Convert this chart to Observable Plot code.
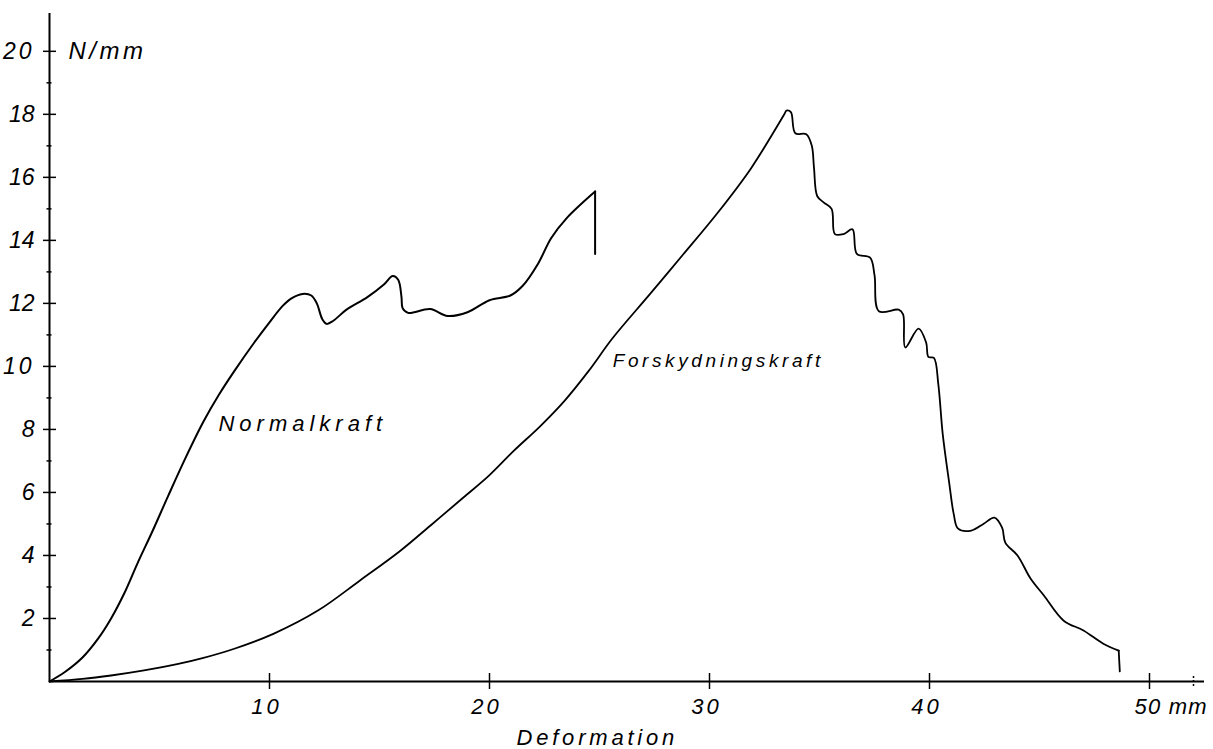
<!DOCTYPE html>
<html>
<head>
<meta charset="utf-8">
<script src="https://cdn.jsdelivr.net/npm/d3@7"></script>
<script src="https://cdn.jsdelivr.net/npm/@observablehq/plot@0.6"></script>
<style>
  body { margin: 0; background: #fff; }
  svg { display: block; }
</style>
</head>
<body>
<div id="chart"></div>
<script>
// Normalkraft (normal force) curve, deformation in mm vs N/mm
const normalX = [0, 0.7, 1.5, 2.2, 2.8, 3.4, 4.0, 4.7, 5.4, 6.2, 7.0, 7.7, 8.4, 9.3, 10.0, 10.6, 11.0, 11.5, 11.9, 12.15, 12.4, 12.6, 12.9, 13.5, 14.45, 15.2, 15.6, 15.85, 16.0, 16.05, 16.3, 17.3, 18.1, 19.0, 20.0, 20.95, 21.5, 22.2, 22.8, 23.5, 24.8, 24.8];
const normalY = [0, 0.3, 0.76, 1.35, 2.0, 2.8, 3.75, 4.8, 5.9, 7.12, 8.25, 9.1, 9.85, 10.75, 11.4, 11.92, 12.16, 12.3, 12.25, 12.0, 11.5, 11.35, 11.45, 11.8, 12.2, 12.6, 12.87, 12.75, 12.2, 11.85, 11.7, 11.82, 11.6, 11.72, 12.1, 12.25, 12.55, 13.25, 14.07, 14.7, 15.55, 13.57];

// Forskydningskraft (shear force) curve
const shearX = [0, 1.5, 2.8, 4.3, 5.8, 7.0, 8.4, 10.2, 12.2, 14.1, 15.95, 17.4, 18.8, 20.0, 21.1, 22.3, 23.4, 24.5, 25.6, 27.3, 28.8, 30.4, 31.9, 33.4, 33.5, 33.7, 33.9, 34.4, 34.65, 34.75, 34.9, 35.2, 35.55, 35.7, 36.1, 36.5, 36.7, 37.3, 37.5, 37.7, 38.6, 38.8, 38.9, 39.5, 39.85, 39.95, 40.2, 40.4, 40.6, 40.9, 41.1, 41.3, 41.9, 42.45, 42.95, 43.3, 43.45, 44.0, 44.6, 45.2, 46.1, 47.0, 47.9, 48.6, 48.65];
const shearY = [0, 0.08, 0.19, 0.35, 0.55, 0.75, 1.04, 1.52, 2.25, 3.2, 4.15, 5.0, 5.83, 6.55, 7.32, 8.1, 8.9, 9.85, 10.9, 12.3, 13.55, 14.9, 16.3, 18.0, 18.12, 18.07, 17.4, 17.37, 17.0, 16.3, 15.4, 15.2, 15.0, 14.2, 14.2, 14.35, 13.57, 13.45, 12.9, 11.75, 11.8, 11.65, 10.6, 11.2, 10.75, 10.3, 10.27, 9.44, 7.86, 6.28, 5.32, 4.85, 4.79, 5.0, 5.2, 4.88, 4.4, 4.0, 3.26, 2.73, 1.93, 1.62, 1.2, 0.98, 0.32];

// Axis ticks and labels
const xTicks = [10, 20, 30, 40, 50];
const xTickLabels = ["10", "20", "30", "40"];
const xMinorTicks = [52];
const yTicks = [2, 4, 6, 8, 10, 12, 14, 16, 18, 20];
const yMinorTicks = [1, 3, 5, 7, 9, 11, 13, 15, 17, 19];
const xDomain = [0, 52.5];
const yDomain = [0, 21.2];

// Annotation texts
const curveLabels = [
  {x: 7.68, y: 8.18, text: "Normalkraft"},
  {x: 25.6, y: 10.17, text: "Forskydningskraft"}
];
const unitLabelY = {x: 0.86, y: 20, text: "N/mm"};
const unitLabelX = {x: 50, y: 0, text: "50 mm"};
const xTitle = {x: 24.9, y: 0, text: "Deformation"};

// split each record into its smooth trace and the final vertical drop (pen lift)
function toRows(xs, ys) {
  const n = xs.length, rows = [];
  xs.forEach((x, i) => {
    if (i < n - 1) rows.push({x, y: ys[i], seg: "trace"});
    if (i >= n - 2) rows.push({x, y: ys[i], seg: "drop"});
  });
  return rows;
}
const normal = toRows(normalX, normalY);
const shear = toRows(shearX, shearY);

const font = "'Liberation Sans', Arial, sans-serif";

const chart = Plot.plot({
  width: 1213,
  height: 749,
  marginLeft: 49,
  marginRight: 9,
  marginTop: 13,
  marginBottom: 68,
  x: {domain: xDomain, axis: null},
  y: {domain: yDomain, axis: null},
  style: {fontFamily: font, fontStyle: "italic", background: "white", color: "black"},
  marks: [
    // axis lines
    Plot.ruleY([0], {stroke: "black", strokeWidth: 2}),
    Plot.ruleX([0], {stroke: "black", strokeWidth: 2}),
    // x ticks (crossing the axis)
    Plot.ruleX(xTicks, {x: d => d, y1: 0, y2: 0, insetTop: -8, insetBottom: -8, stroke: "black", strokeWidth: 1.5}),
    Plot.ruleX(xMinorTicks, {x: d => d, y1: 0, y2: 0, insetTop: -5, insetBottom: -5, stroke: "black", strokeWidth: 1.5, strokeDasharray: "2,2"}),
    // y ticks
    Plot.ruleY(yTicks, {y: d => d, x1: 0, x2: 0, insetLeft: -6, insetRight: -7, stroke: "black", strokeWidth: 1.5}),
    Plot.ruleY(yMinorTicks, {y: d => d, x1: 0, x2: 0, insetLeft: -2.5, insetRight: -2.5, stroke: "black", strokeWidth: 1.5}),
    // tick labels
    Plot.text(yTicks, {x: 0, y: d => d, text: d => String(d), textAnchor: "end", dx: -15, fontSize: 23, fill: "black"}),
    Plot.text(xTickLabels, {x: d => +d, y: 0, text: d => d, dy: 25, dx: -3, fontSize: 22, fill: "black"}),
    Plot.text([unitLabelX], {x: "x", y: "y", text: "text", textAnchor: "start", dy: 25, dx: -15, fontSize: 22, fill: "black"}),
    Plot.text([xTitle], {x: "x", y: "y", text: "text", dy: 56, fontSize: 22, fill: "black"}),
    Plot.text([unitLabelY], {x: "x", y: "y", text: "text", textAnchor: "start", fontSize: 24, fill: "black"}),
    Plot.text(curveLabels, {x: "x", y: "y", text: "text", textAnchor: "start", fontSize: d => d.text === "Normalkraft" ? 22 : 19, fill: "black"}),
    // curves
    Plot.line(normal, {x: "x", y: "y", z: "seg", stroke: "black", strokeWidth: 2, curve: "catmull-rom"}),
    Plot.line(shear, {x: "x", y: "y", z: "seg", stroke: "black", strokeWidth: 1.8, curve: "catmull-rom"})
  ]
});

// letter-spacing for the technical-lettering look
const spacing = {"Normalkraft": 5, "Forskydningskraft": 3.6, "Deformation": 3.8, "N/mm": 3.5, "50 mm": 1.2, "10": 3, "20": 3, "30": 3, "40": 3};
d3.select(chart).selectAll("text").each(function() {
  const t = this.textContent;
  if (spacing[t] !== undefined) this.setAttribute("letter-spacing", spacing[t]);
});

document.getElementById("chart").appendChild(chart);
</script>
</body>
</html>
